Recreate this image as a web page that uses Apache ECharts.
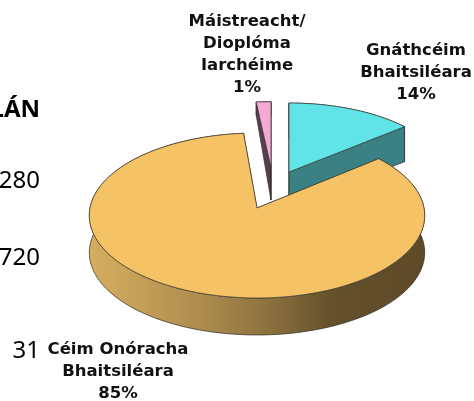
<!DOCTYPE html>
<html><head><meta charset="utf-8">
<style>html,body{margin:0;padding:0;background:#fff}#c{width:474px;height:401px}</style>
<script src="https://cdn.jsdelivr.net/npm/echarts@6/dist/echarts.min.js"></script>
</head><body><div id="c"></div>
<script>
// Data (clockwise from 12 o'clock)
const categories = ["Gnáthcéim\nBhaitsiléara", "Céim Onóracha\nBhaitsiléara", "Máistreacht/\nDioplóma\nIarchéime"];
const values = [14, 84.6, 1.4];
const percentLabels = ["14%", "85%", "1%"];
const leftCutOffTexts = ["LÁN", "280", "720", "31"];

// Styling / layout per slice
const sliceStyle = [
  {apex:[289,172], sx:0.95, sy:0.92, top:"#60e4e8", wall:"#3b8083", dApex:35, dRim:35, z:2, label:[416,73]},
  {apex:[257,208], sx:1.00, sy:1.00, top:"#f5c265", wall:"grad",    dApex:37, dRim:37, z:3, label:[118,372]},
  {apex:[271,167], sx:1.10, sy:0.87, top:"#f4a9d4", wall:"#5a3d50", dApex:33, dRim:13, z:1, label:[247,55]}
];
const A = 167, B = 81.8, K = 0.0909;
const total = values.reduce((a, b) => a + b, 0);
const starts = []; values.reduce((acc, v, i) => (starts[i] = acc, acc + v), 0);

const pt = (st, deg, dz) => {
  const t = deg * Math.PI / 180, u = Math.sin(t), v = Math.cos(t), d = 1 + K * v;
  return [st.apex[0] + A * st.sx * u / d, st.apex[1] - B * st.sy * v / d + (dz || 0)];
};
const wallGrad = new echarts.graphic.LinearGradient(89, 0, 425, 0, [
  {offset:0, color:"#d6ae60"}, {offset:0.35, color:"#ab8b4c"},
  {offset:0.55, color:"#8a6f3d"}, {offset:0.72, color:"#64502a"}, {offset:1, color:"#5e4a28"}
], true);

function renderItem(params, api) {
  const i = params.dataIndex, st = sliceStyle[i];
  const a0 = starts[i] / total * 360, a1 = a0 + api.value(0) / total * 360;
  const arc = [], n = Math.max(4, Math.ceil((a1 - a0) / 2));
  for (let j = 0; j <= n; j++) arc.push(a0 + (a1 - a0) * j / n);
  const topArc = arc.map(a => pt(st, a, 0));
  const face = [st.apex].concat(topArc);
  const botArc = arc.map(a => pt(st, a, st.dRim)).reverse();
  const apexBot = [st.apex[0], st.apex[1] + st.dApex];
  const wallFill = st.wall === "grad" ? wallGrad : st.wall;
  const wallStyle = {fill: wallFill, stroke: "#2c2a24", lineWidth: 0.7};
  const first = topArc[0], last = topArc[topArc.length - 1];
  const firstB = botArc[botArc.length - 1], lastB = botArc[0];
  const children = [
    {type:"polygon", z2: st.z*10, shape:{points: topArc.concat(botArc)}, style: wallStyle},
    {type:"polygon", z2: st.z*10, shape:{points: [st.apex, first, firstB, apexBot]}, style: wallStyle},
    {type:"polygon", z2: st.z*10, shape:{points: [st.apex, last, lastB, apexBot]}, style: wallStyle},
    {type:"polygon", z2: st.z*10+1, shape:{points: face}, style:{fill: st.top, stroke:"#3a3a32", lineWidth:0.7}},
    {type:"text", z2: 100, x: st.label[0], y: st.label[1], style:{
      text: api.value(1) + "\n" + percentLabels[i], fill:"#111", align:"center", verticalAlign:"middle",
      font:'bold 16.5px "DejaVu Sans"', lineHeight:22}}
  ];
  return {type:"group", children};
}

const leftPos = [[40,110,'bold 24px "Noto Sans"'],[40,181,'24px "Noto Sans"'],[40,258,'24px "Noto Sans"'],[40,351,'24px "Noto Sans"']];
const chart = echarts.init(document.getElementById("c"), null, {renderer:"canvas"});
chart.setOption({
  animation:false,
  backgroundColor:"#fff",
  graphic: leftCutOffTexts.map((t, i) => ({type:"text", x:leftPos[i][0], y:leftPos[i][1], silent:true,
    style:{text:t, align:"right", verticalAlign:"middle", fill:"#000", font:leftPos[i][2]}})),
  series:[{type:"custom", coordinateSystem:"none", renderItem, silent:true,
    data: values.map((v, i) => [v, categories[i]])}]
});
</script></body></html>
